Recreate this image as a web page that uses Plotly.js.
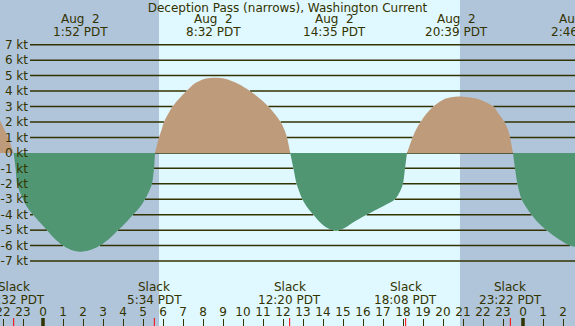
<!DOCTYPE html>
<html>
<head>
<meta charset="utf-8">
<script src="https://cdn.plot.ly/plotly-3.0.1.min.js"></script>
<style>html,body{margin:0;padding:0;background:#b0c4da;}#chart{width:575px;height:326px;}</style>
</head>
<body>
<div id="chart"></div>
<script>
// Hours since midnight, Aug 2 (PDT)
const hours = [-2.15,-1.75,-1.47,-1.37,-1.3,-1.17,-1.0,-0.8,-0.5,-0.15,0.2,0.55,1.0,1.35,1.85,2.45,2.85,3.35,3.75,4.15,4.5,4.85,5.1,5.3,5.45,5.55,5.6,
  5.8,5.93,6.05,6.25,6.48,6.8,7.18,7.6,8.1,8.6,9.1,9.7,10.35,10.85,11.27,11.6,11.88,12.07,12.2,12.36,
  12.52,12.68,12.97,13.2,13.52,13.9,14.2,14.65,15.1,15.5,16.18,16.93,17.6,17.85,18.0,18.1,18.2,
  18.48,18.65,18.88,19.15,19.52,20.1,20.75,21.7,22.52,22.8,23.07,23.25,23.35,23.5,
  23.6,23.72,23.93,24.15,24.43,24.75,25.18,25.7,26.35,26.7];
// Current speed, knots (+ flood, - ebb)
const knots = [2.1,1.0,0,-1,-2,-2.5,-3,-3.5,-4,-4.5,-5,-5.5,-6,-6.25,-6.4,-6.25,-6,-5.5,-5,-4.5,-4,-3.5,-3,-2.5,-2,-1,0,
  1,1.5,2,2.5,3,3.5,4,4.5,4.8,4.86,4.8,4.5,4,3.5,3,2.5,2,1.5,1,0,
  -1,-2,-3,-3.5,-4,-4.55,-4.85,-5.05,-4.85,-4.5,-4,-3.5,-3,-2.5,-2,-1,0,
  1,1.5,2,2.5,3,3.5,3.65,3.5,3,2.5,2,1.5,1,0,
  -1,-2,-3,-3.5,-4,-4.5,-5,-5.5,-6,-6.1];

const extremeHours = [1.867, 8.533, 14.583, 20.65, 26.767];
const extremeDates = ["Aug\u00a0\u00a02","Aug\u00a0\u00a02","Aug\u00a0\u00a02","Aug\u00a0\u00a02","Aug\u00a0\u00a03"];
const extremeLabels = ["1:52 PDT","8:32 PDT","14:35 PDT","20:39 PDT","2:46 PDT"];

const slackHours = [-1.467, 5.567, 12.333, 18.133, 23.367];
const slackLabels = ["22:32 PDT","5:34 PDT","12:20 PDT","18:08 PDT","23:22 PDT"];

const sunrise = 5.8, sunset = 20.85;
const midnights = [0, 24];

const hourTicks = [-2,-1,0,1,2,3,4,5,6,7,8,9,10,11,12,13,14,15,16,17,18,19,20,21,22,23,24,25,26];
const hourLabels = ["22","23","0","1","2","3","4","5","6","7","8","9","10","11","12","13","14","15","16","17","18","19","20","21","22","23","0","1","2"];

const ktTicks = [7,6,5,4,3,2,1,0,-1,-2,-3,-4,-5,-6,-7];
const ktLabels = ["7 kt","6 kt","5 kt","4 kt","3 kt","2 kt","1 kt","0 kt","-1 kt","-2 kt","-3 kt","-4 kt","-5 kt","-6 kt","-7 kt"];

const W = 575, H = 326;
const xRange = [-2.15, 26.6];
const yRange = [-11.2, 9.89];
const ink = '#333300';
const NIGHT = '#b0c4da', DAY = '#e0f8ff';
const font = {family: 'DejaVu Sans', size: 12, color: ink};
const FLOOD = 'rgb(190,155,122)', EBB = 'rgb(80,150,115)';

// grid lines start right of the label column and are hidden where the current fill covers them
const gridStart = xRange[0] + (30 / W) * (xRange[1] - xRange[0]);
function gridSegments(k) {
  const inside = v => (k > 0 ? v > k : v < k);
  const cuts = [];
  let start = inside(knots[0]) ? hours[0] : null;
  for (let i = 1; i < hours.length; i++) {
    const a = inside(knots[i - 1]), b = inside(knots[i]);
    if (a !== b) {
      const t = hours[i - 1] + (k - knots[i - 1]) / (knots[i] - knots[i - 1]) * (hours[i] - hours[i - 1]);
      if (b) start = t; else { cuts.push([start, t]); start = null; }
    }
  }
  if (start !== null) cuts.push([start, Infinity]);
  const segs = [];
  let x = gridStart;
  cuts.forEach(([a, b]) => {
    if (b <= x) return;
    if (a > x) segs.push([x, Math.min(a, xRange[1])]);
    x = Math.max(x, b);
  });
  if (x < xRange[1]) segs.push([x, xRange[1]]);
  return segs;
}
const gx = [], gy = [];
ktTicks.forEach(k => gridSegments(k).forEach(([a, b]) => { gx.push(a, b, null); gy.push(k, k, null); }));
const traces = [{x: gx, y: gy, type: 'scatter', mode: 'lines', line: {color: ink, width: 1.5}, hoverinfo: 'skip', connectgaps: false}];

// split the current curve into flood / ebb lobes (slack zeros shared by neighbours)
const lobes = [];
let cur = {x: [], y: []};
for (let i = 0; i < hours.length; i++) {
  cur.x.push(hours[i]); cur.y.push(knots[i]);
  if (knots[i] === 0 && cur.x.length > 1) {
    lobes.push(cur);
    cur = {x: [hours[i]], y: [knots[i]]};
  }
}
if (cur.x.length > 1) lobes.push(cur);

lobes.forEach(l => {
  const s = l.y.reduce((a, b) => a + b, 0);
  const c = s >= 0 ? FLOOD : EBB;
  traces.push({x: l.x, y: l.y, type: 'scatter', mode: 'lines', fill: 'tozeroy', fillcolor: c, opacity: 1,
    line: {width: 0, color: c, shape: 'spline', smoothing: 0.8}, hoverinfo: 'skip'});
});

const toPaper = t => (t - xRange[0]) / (xRange[1] - xRange[0]);

const shapes = [];
shapes.push({type: 'rect', xref: 'x', yref: 'paper', x0: sunrise, x1: sunset, y0: 0, y1: 1, fillcolor: DAY, line: {width: 0}, layer: 'below'});
slackHours.forEach(t => shapes.push({type: 'line', xref: 'x', yref: 'paper', x0: t, x1: t, y0: 0, y1: 8 / H, line: {color: '#ff0000', width: 1}}));
midnights.forEach(t => shapes.push({type: 'line', xref: 'x', yref: 'paper', x0: t, x1: t, y0: 0, y1: 8 / H, line: {color: ink, width: 3.5}}));

const annotations = [];
extremeHours.forEach((t, i) => {
  annotations.push({xref: 'paper', yref: 'paper', x: toPaper(t), y: 1 - 19 / H, text: extremeDates[i], showarrow: false, xanchor: 'center', yanchor: 'middle', font: font});
  annotations.push({xref: 'paper', yref: 'paper', x: toPaper(t), y: 1 - 32 / H, text: extremeLabels[i], showarrow: false, xanchor: 'center', yanchor: 'middle', font: font});
});
slackHours.forEach((t, i) => {
  annotations.push({xref: 'paper', yref: 'paper', x: toPaper(t), y: 1 - 287 / H, text: 'Slack', showarrow: false, xanchor: 'center', yanchor: 'middle', font: font});
  annotations.push({xref: 'paper', yref: 'paper', x: toPaper(t), y: 1 - 299.5 / H, text: slackLabels[i], showarrow: false, xanchor: 'center', yanchor: 'middle', font: font});
});

const layout = {
  width: W, height: H,
  margin: {l: 0, r: 0, t: 0, b: 0, pad: 0},
  paper_bgcolor: NIGHT,
  plot_bgcolor: NIGHT,
  showlegend: false,
  font: font,
  title: {text: 'Deception Pass (narrows), Washington Current', x: 0.5, xref: 'paper', y: 1 - 7.5 / H, yref: 'container', xanchor: 'center', yanchor: 'middle', font: font},
  xaxis: {range: xRange, tickmode: 'array', tickvals: hourTicks, ticktext: hourLabels, side: 'top', anchor: 'free', position: 8 / H,
    ticks: 'inside', ticklen: 8, tickwidth: 1, tickcolor: ink, tickfont: font, ticklabeloverflow: 'allow',
    showgrid: false, zeroline: false, showline: false, fixedrange: true, layer: 'above traces'},
  yaxis: {range: yRange, tickmode: 'array', tickvals: ktTicks, ticktext: ktLabels, anchor: 'free', position: 28 / W, side: 'left',
    ticks: '', tickfont: font, ticklabeloverflow: 'allow', showgrid: false, zeroline: false, showline: false, fixedrange: true, layer: 'above traces'},
  shapes: shapes,
  annotations: annotations
};

Plotly.newPlot('chart', traces, layout, {staticPlot: true, displayModeBar: false});
</script>
</body>
</html>
